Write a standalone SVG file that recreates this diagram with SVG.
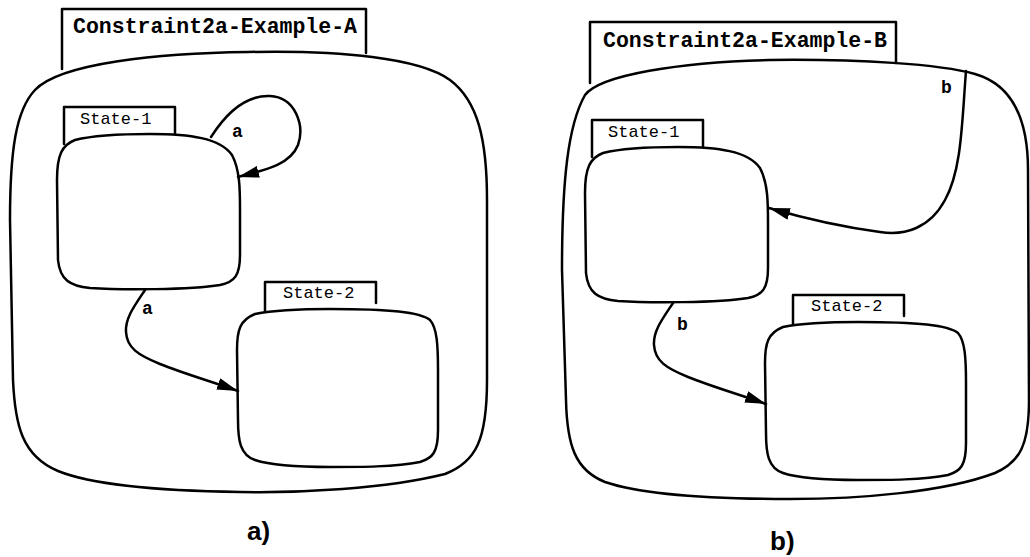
<svg xmlns="http://www.w3.org/2000/svg" width="1030" height="557" viewBox="0 0 1030 557">
<defs>
<style>
.ln{fill:none;stroke:#000;stroke-width:2.5;stroke-linejoin:round;stroke-linecap:round}
.bx{fill:#fff;stroke:#000;stroke-width:2.5;stroke-linejoin:round}
.title{font-family:"Liberation Mono","Courier New",monospace;font-size:21.5px;font-weight:bold;fill:#000}
.st{font-family:"Liberation Mono","Courier New",monospace;font-size:17px;fill:#000}
.lbl{font-family:"Liberation Mono","Courier New",monospace;font-size:18px;font-weight:bold;fill:#000}
.cap{font-family:"Liberation Sans",Arial,sans-serif;font-size:26px;font-weight:bold;fill:#000}
</style>
<marker id="ah" markerUnits="userSpaceOnUse" markerWidth="22" markerHeight="12" refX="21" refY="6" orient="auto">
<path d="M0,0 L21,6 L0,12 Z" fill="#000"/>
</marker>
</defs>
<rect width="1030" height="557" fill="#fff"/>

<!-- Diagram A -->
<g id="outerA">
<path class="ln" d="M62,69 L62,9 L366,9 L366,53"/>
<path class="ln" d="M248,52 C340,50 420,58 450,80 C478,101 487,140 487,200 L487,380 C487,440 476,462 445,474 C385,489 300,493 240,492 C170,491 95,486 58,471 C22,456 15,425 13,380 L10,220 C10,150 16,110 35,90 C60,63 160,53 248,52 Z"/>
<text class="title" x="73" y="33" textLength="284" lengthAdjust="spacingAndGlyphs">Constraint2a-Example-A</text>
</g>
<g id="stateA1">
<path class="ln" d="M64,144 L64,107 L175,107 L175,135"/>
<path class="bx" d="M150,134 C190,134 220,138 232,155 C240,170 240,190 240,210 L240,255 C240,275 235,282 220,285 C190,290 120,290 90,288 C70,286 60,280 58,260 L57,180 C57,155 62,145 75,140 C95,135 120,134 150,134 Z"/>
<text class="st" x="80" y="124">State-1</text>
</g>
<g id="stateA2">
<path class="ln" d="M265,312 L265,282 L376,282 L376,303"/>
<path class="bx" d="M330,309 C390,309 420,312 430,320 C437,328 438,345 438,370 L438,430 C438,452 433,458 420,462 C395,467 360,467 330,467 C300,467 270,465 255,460 C240,455 238,440 238,420 L237,350 C237,330 240,320 255,314 C275,310 300,309 330,309 Z"/>
<text class="st" x="283" y="298">State-2</text>
</g>

<!-- Diagram B -->
<g id="outerB">
<path class="ln" d="M590,83 L590,22 L896,22 L896,63"/>
<path class="ln" d="M770,60 C860,59 940,64 975,74 C1010,84 1028,115 1028,170 L1029,400 C1029,445 1020,462 995,473 C945,492 860,499 790,499 C700,499 640,494 605,482 C575,470 567,445 566,400 L562,270 C562,180 568,125 585,95 C600,75 680,62 770,60 Z"/>
<text class="title" x="603" y="47" textLength="284" lengthAdjust="spacingAndGlyphs">Constraint2a-Example-B</text>
</g>
<g id="stateB1" transform="translate(528,13)">
<path class="ln" d="M64,144 L64,107 L175,107 L175,135"/>
<path class="bx" d="M150,134 C190,134 220,138 232,155 C240,170 240,190 240,210 L240,255 C240,275 235,282 220,285 C190,290 120,290 90,288 C70,286 60,280 58,260 L57,180 C57,155 62,145 75,140 C95,135 120,134 150,134 Z"/>
<text class="st" x="80" y="124">State-1</text>
</g>
<g id="stateB2" transform="translate(528,13)">
<path class="ln" d="M265,312 L265,282 L376,282 L376,303"/>
<path class="bx" d="M330,309 C390,309 420,312 430,320 C437,328 438,345 438,370 L438,430 C438,452 433,458 420,462 C395,467 360,467 330,467 C300,467 270,465 255,460 C240,455 238,440 238,420 L237,350 C237,330 240,320 255,314 C275,310 300,309 330,309 Z"/>
<text class="st" x="283" y="298">State-2</text>
</g>

<g id="connectors">
<path class="ln" marker-end="url(#ah)" d="M211,137 C225,115 245,95 270,96 C295,97 305,125 298,145 C290,165 265,170 238,177"/>
<text class="lbl" x="232" y="137">a</text>
<path class="ln" marker-end="url(#ah)" d="M145,290 C135,305 125,318 126,332 C127,348 138,355 160,364 C185,374 210,381 238,391"/>
<text class="lbl" x="142" y="314">a</text>
<path class="ln" marker-end="url(#ah)" d="M966,71 C962,120 962,170 945,200 C930,228 905,236 880,232 C850,228 810,220 769,208"/>
<text class="lbl" x="941" y="93">b</text>
<path class="ln" marker-end="url(#ah)" d="M673,303 C663,318 653,331 654,345 C655,361 666,368 688,377 C713,387 738,394 766,404"/>
<text class="lbl" x="677" y="330">b</text>
</g>

<text class="cap" x="247" y="540">a)</text>
<text class="cap" x="770" y="550">b)</text>
</svg>
